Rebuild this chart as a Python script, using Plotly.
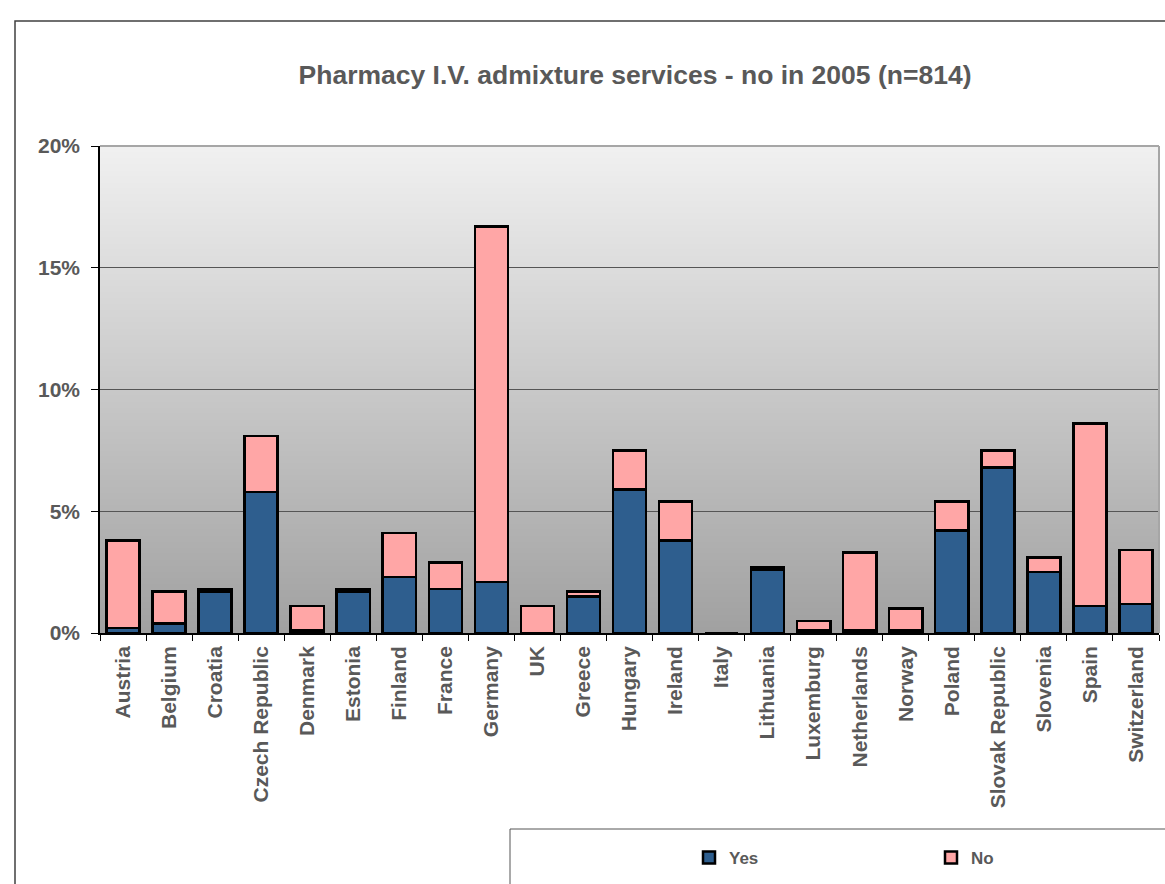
import plotly.graph_objects as go

countries = ["Austria", "Belgium", "Croatia", "Czech Republic", "Denmark", "Estonia",
             "Finland", "France", "Germany", "UK", "Greece", "Hungary", "Ireland", "Italy",
             "Lithuania", "Luxemburg", "Netherlands", "Norway", "Poland", "Slovak Republic",
             "Slovenia", "Spain", "Switzerland"]
yes_vals = [0.2, 0.4, 1.7, 5.8, 0.1, 1.7, 2.3, 1.8, 2.1, 0.0, 1.5, 5.9, 3.8, 0.0,
            2.6, 0.1, 0.1, 0.1, 4.2, 6.8, 2.5, 1.1, 1.2]
no_vals = [3.6, 1.3, 0.1, 2.3, 1.0, 0.1, 1.8, 1.1, 14.6, 1.1, 0.2, 1.6, 1.6, 0.0,
           0.1, 0.4, 3.2, 0.9, 1.2, 0.7, 0.6, 7.5, 2.2]
y_ticks = [0, 5, 10, 15, 20]
y_tick_labels = ["0%", "5%", "10%", "15%", "20%"]

W, H = 1165, 884
L, R, T, B = 100, 6, 146, 251
pw = W - L - R
ph = H - T - B

def px_x(x):
    return (x - L) / pw

def px_y(y):
    return (H - B - y) / ph

FONT = "Liberation Sans, Arial, sans-serif"
GRAY = "#595959"

fig = go.Figure()
fig.add_trace(go.Bar(x=countries, y=yes_vals, name="Yes",
                     marker=dict(color="#2e5e8e", line=dict(color="black", width=2.5)),
                     legend="legend"))
fig.add_trace(go.Bar(x=countries, y=no_vals, name="No",
                     marker=dict(color="#ffa6a6", line=dict(color="black", width=2.5)),
                     legend="legend2"))

shapes = []
# gradient background of plot area
n = 80
for i in range(n):
    t = (i + 0.5) / n
    v = int(round(160 + (241 - 160) * t))
    shapes.append(dict(type="rect", xref="paper", yref="paper", x0=0, x1=1,
                       y0=i / n, y1=(i + 1) / n + 0.002, line=dict(width=0),
                       fillcolor=f"rgb({v},{v},{v})", layer="below"))
# top and right plot frame
shapes.append(dict(type="line", xref="paper", yref="paper", x0=0, x1=1, y0=1, y1=1,
                   line=dict(color="#a6a6a6", width=2), layer="above"))
shapes.append(dict(type="line", xref="paper", yref="paper", x0=1, x1=1, y0=0, y1=1,
                   line=dict(color="#a6a6a6", width=2), layer="above"))
# outer chart border
shapes.append(dict(type="rect", xref="paper", yref="paper",
                   x0=px_x(15), x1=px_x(1200), y0=px_y(950), y1=px_y(21),
                   line=dict(color="#404040", width=1.5), fillcolor="rgba(0,0,0,0)"))
# legend box
shapes.append(dict(type="rect", xref="paper", yref="paper",
                   x0=px_x(510), x1=px_x(1200), y0=px_y(950), y1=px_y(829),
                   line=dict(color="#555555", width=1), fillcolor="rgba(0,0,0,0)"))

legend_common = dict(orientation="h", yanchor="middle", xanchor="left",
                     bgcolor="rgba(0,0,0,0)", borderwidth=0,
                     font=dict(family=FONT, size=17, color=GRAY, weight="bold"))

fig.update_layout(
    width=W, height=H,
    margin=dict(l=L, r=R, t=T, b=B),
    barmode="stack", bargap=0.28,
    paper_bgcolor="white", plot_bgcolor="rgba(0,0,0,0)",
    title=dict(text="Pharmacy I.V. admixture services - no in 2005 (n=814)",
               x=635 / W, xanchor="center", y=1 - 75 / H, yanchor="middle",
               font=dict(family=FONT, size=26.5, color=GRAY, weight="bold")),
    xaxis=dict(type="category", tickangle=-90, ticks="outside", tickson="boundaries",
               ticklen=6, tickcolor="black", showline=True, linecolor="black", linewidth=1.5,
               showgrid=False, ticklabelstandoff=3,
               tickfont=dict(family=FONT, size=21, color=GRAY, weight="bold")),
    yaxis=dict(range=[0, 20], tickmode="array", tickvals=y_ticks, ticktext=y_tick_labels,
               ticks="outside", ticklen=7, tickcolor="black", showline=True,
               linecolor="black", linewidth=1.5, ticklabelstandoff=7,
               showgrid=True, gridcolor="#555555", gridwidth=1, zeroline=False,
               tickfont=dict(family=FONT, size=21, color=GRAY, weight="bold")),
    shapes=shapes,
    showlegend=True,
    legend=dict(x=px_x(689), y=px_y(858), **legend_common),
    legend2=dict(x=px_x(931), y=px_y(858), **legend_common),
)

fig.write_html("out.html", config={"displayModeBar": False},
               post_script="document.body.style.margin='0px';")
